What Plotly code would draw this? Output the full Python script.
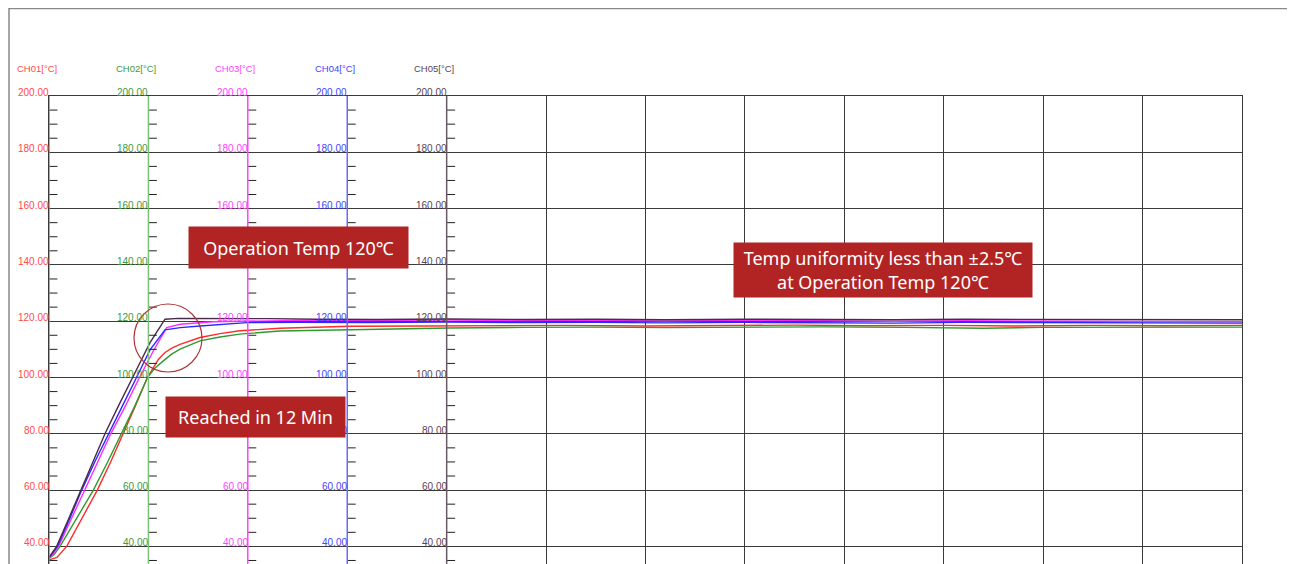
import plotly.graph_objects as go

# ---------------- data (time in minutes, temperature in °C) ----------------
ch01_t = [0, 0.8, 1.78, 3.3, 4.86, 6.2, 7.47, 8.7, 9.9, 10.5, 11.0, 11.67, 12.4, 13.18, 14.2, 15.19, 17.2, 19.2, 23.2, 30.3, 38, 45.4, 52, 60, 68, 75, 82, 90, 97, 105, 112, 120]
ch01_v = [35.2, 36.1, 40.0, 50.0, 60.0, 70.0, 80.0, 90.0, 100.0, 103.6, 106.4, 108.9, 110.5, 111.8, 113.1, 114.2, 115.6, 116.6, 117.5, 118.2, 118.3, 118.4, 118.5, 118.3, 118.5, 118.6, 118.4, 118.5, 118.3, 118.5, 118.4, 118.5]

ch02_t = [0, 0.5, 1.11, 2.8, 4.46, 5.9, 7.31, 8.65, 9.9, 10.7, 11.5, 12.3, 13.18, 14.2, 15.19, 17.2, 19.2, 23.2, 30.3, 40.3, 48, 55, 62, 70, 78, 86, 94, 100, 108, 114, 120]
ch02_v = [35.7, 37.0, 40.0, 50.0, 60.0, 70.0, 80.0, 90.0, 100.0, 103.5, 105.9, 108.2, 110.1, 111.7, 113.0, 114.4, 115.4, 116.5, 117.0, 117.6, 117.8, 117.9, 117.7, 117.9, 118.0, 117.8, 117.5, 117.8, 117.9, 117.8, 117.9]

ch03_t = [0, 0.4, 0.96, 2.3, 3.62, 4.9, 6.21, 7.7, 9.1, 10.5, 11.84, 13.2, 16.5, 20, 25, 32, 40, 48, 55, 62, 70, 78, 85, 92, 100, 108, 115, 120]
ch03_v = [35.8, 37.3, 40.0, 50.0, 60.0, 70.0, 80.0, 90.0, 100.0, 109.5, 117.7, 118.9, 119.8, 120.1, 120.3, 120.2, 120.4, 120.2, 120.3, 120.1, 120.3, 120.2, 120.0, 120.2, 120.1, 120.0, 119.9, 119.8]

ch04_t = [0, 0.35, 0.85, 2.1, 3.29, 4.6, 5.97, 7.4, 8.8, 10.16, 11.67, 13.2, 15.2, 19.9, 25, 32, 40, 48, 55, 62, 70, 78, 85, 92, 100, 108, 115, 120]
ch04_v = [36.0, 37.5, 40.0, 50.0, 60.0, 70.0, 80.0, 90.0, 100.0, 109.8, 116.9, 117.7, 118.3, 119.5, 119.6, 119.5, 119.7, 119.5, 119.6, 119.4, 119.6, 119.5, 119.3, 119.6, 119.5, 119.4, 119.5, 119.3]

ch05_t = [0, 0.3, 0.77, 2.0, 3.19, 4.4, 5.63, 7.0, 8.45, 9.3, 10.16, 11.0, 11.67, 13, 15.2, 18, 22, 27, 33, 40, 48, 55, 62, 70, 78, 85, 92, 100, 108, 115, 120]
ch05_v = [36.1, 37.5, 40.0, 50.0, 60.0, 70.0, 80.0, 90.0, 100.0, 106.3, 112.4, 117.2, 120.7, 121.0, 121.0, 120.8, 120.9, 120.7, 120.6, 120.8, 120.6, 120.7, 120.5, 120.7, 120.6, 120.5, 120.7, 120.6, 120.5, 120.6, 120.5]

channel_names = ["CH01[°C]", "CH02[°C]", "CH03[°C]", "CH04[°C]", "CH05[°C]"]
axis_positions = [0, 10, 20, 30, 40]          # minutes where each channel scale sits
major_ticks = [40, 60, 80, 100, 120, 140, 160, 180, 200]
minor_ticks = [35, 45, 50, 55, 65, 70, 75, 85, 90, 95, 105, 110, 115, 125, 130, 135,
               145, 150, 155, 165, 170, 175, 185, 190, 195]

line_colors = ["#ff2a2a", "#2f9a2f", "#ff2aff", "#2a2aff", "#4a2a4a"]
label_colors = ["#ff4a4a", "#3c9a3c", "#ff44ff", "#4444ff", "#5a4454"]
axis_line_colors = ["#ff5a5a", "#7cc07c", "#ff55ff", "#6a6aff", "#6a5a66"]

box_texts = ["Operation Temp 120℃", "Reached in 12 Min",
             "Temp uniformity less than ±2.5℃<br>at Operation Temp 120℃"]

# ---------------- layout geometry (page pixels; page body has an 8px margin) ----------------
OFF = 8
W, H = 1295 - OFF, 564 - OFF
L, R, T, B = 49, 1242, 96, 564          # plot area in page pixels
Y_MIN, Y_MAX = 200 - (B - T) / 2.815, 200


def px(x):
    return (x - L) / (R - L)


def py(y):
    return (B - y) / (B - T)


series = [(ch01_t, ch01_v), (ch02_t, ch02_v), (ch03_t, ch03_v), (ch04_t, ch04_v), (ch05_t, ch05_v)]

fig = go.Figure()
for i, (t, v) in enumerate(series):
    fig.add_trace(go.Scatter(x=t, y=v, mode="lines", name=channel_names[i],
                             line=dict(color=line_colors[i], width=1.4),
                             hoverinfo="skip"))

shapes = []
# outer frame
shapes.append(dict(type="line", xref="paper", yref="paper", x0=px(9), x1=px(1300), y0=py(8.5), y1=py(8.5),
                   line=dict(color="#8a8a8a", width=1.5)))
shapes.append(dict(type="line", xref="paper", yref="paper", x0=px(9), x1=px(9), y0=py(8), y1=-0.05,
                   line=dict(color="#6a6a6a", width=1.2)))
# channel scale lines + minor ticks
for i, a in enumerate(axis_positions):
    for m in minor_ticks:
        shapes.append(dict(type="line", xref="x", yref="y", x0=a, x1=a + 0.85, y0=m, y1=m,
                           line=dict(color="#222222", width=1), layer="above"))
    shapes.append(dict(type="line", xref="x", yref="paper", x0=a, x1=a, y0=0, y1=1,
                       line=dict(color=axis_line_colors[i], width=1.5), layer="above"))
# red circle marking the reach point
shapes.append(dict(type="circle", xref="paper", yref="paper",
                   x0=px(134), x1=px(202), y0=py(372), y1=py(304),
                   line=dict(color="#b03535", width=1.2), layer="above"))

annotations = []
label_font = "Liberation Sans, Arial, sans-serif"
for i, a in enumerate(axis_positions):
    annotations.append(dict(xref="paper", yref="paper", x=px(L + a * (R - L) / 120 - 12.5), y=py(69),
                            text=channel_names[i], showarrow=False, xanchor="center", yanchor="middle",
                            font=dict(family=label_font, size=9.5, color=label_colors[i])))
    for v in major_ticks:
        annotations.append(dict(xref="x", yref="y", x=a, y=v, text=f"{v:.2f}", showarrow=False,
                                xanchor="right", yanchor="bottom", borderpad=0, yshift=-3, xshift=1,
                                font=dict(family=label_font, size=10, color=label_colors[i])))

box_font = dict(family="Noto Sans, Noto Sans CJK KR, sans-serif", size=18, color="white")
boxes = [((298.5, 247.5), 219, 41), ((255.5, 417), 179, 40), ((883, 270), 298, 54)]
for txt, ((cx, cy), bw, bh) in zip(box_texts, boxes):
    annotations.append(dict(xref="paper", yref="paper", x=px(cx), y=py(cy), text=txt, showarrow=False,
                            xanchor="center", yanchor="middle", width=bw, height=bh, borderpad=0,
                            bgcolor="#b22424", align="center", valign="middle", font=box_font))

fig.update_layout(
    width=W, height=H,
    margin=dict(l=L - OFF, r=1295 - R, t=T - OFF, b=564 - B, pad=0),
    paper_bgcolor="white", plot_bgcolor="white",
    showlegend=False,
    shapes=shapes, annotations=annotations,
    xaxis=dict(range=[0, 120], dtick=10, tick0=0, showgrid=True, gridcolor="#3a3a3a", gridwidth=1,
               showticklabels=False, zeroline=False, showline=True, mirror=True,
               linecolor="#3a3a3a", linewidth=1, ticks=""),
    yaxis=dict(range=[Y_MIN, Y_MAX], dtick=20, tick0=40, showgrid=True, gridcolor="#3a3a3a", gridwidth=1,
               showticklabels=False, zeroline=False, showline=True, mirror=True,
               linecolor="#3a3a3a", linewidth=1, ticks=""),
)

fig.write_html("out.html")
